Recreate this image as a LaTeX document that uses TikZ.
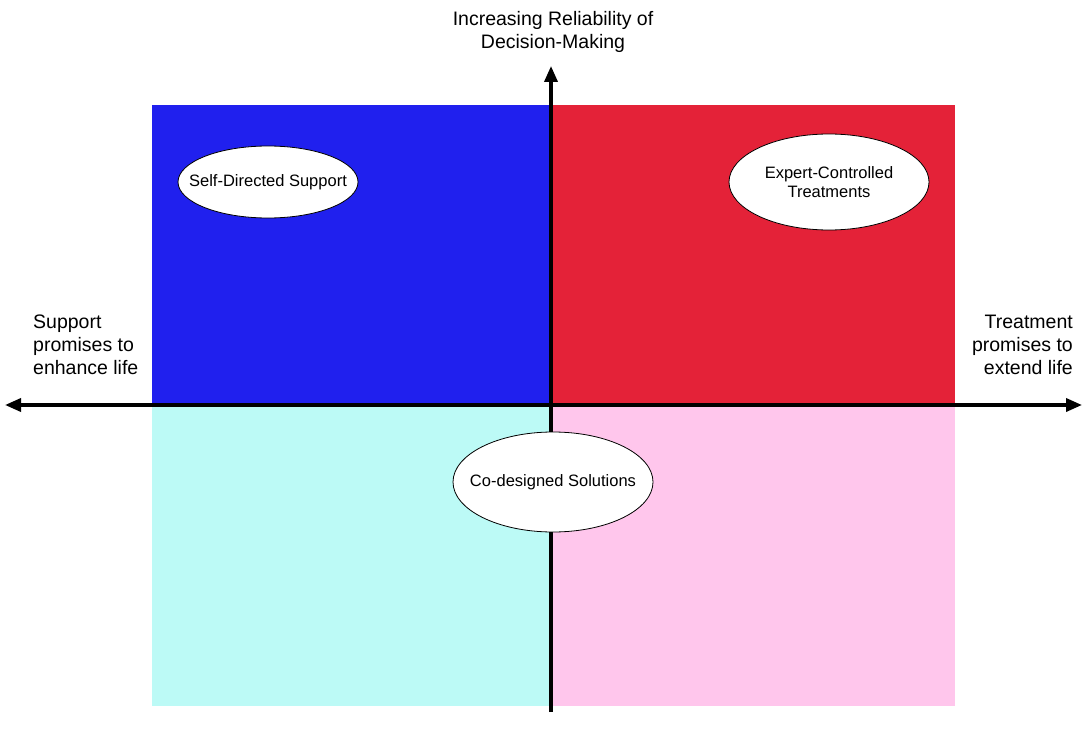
\documentclass[tikz,border=0pt]{standalone}
\usepackage{fontspec}
\setmainfont{Liberation Sans}
\usetikzlibrary{shapes.geometric,arrows.meta}
\definecolor{qblue}{RGB}{32,32,238}
\definecolor{qred}{RGB}{228,34,56}
\definecolor{qcyan}{RGB}{188,250,246}
\definecolor{qpink}{RGB}{255,198,236}
\tikzset{
  axis/.style={line width=3.5pt,-{Triangle[length=16pt,width=13pt]}},
  bubble/.style={ellipse,draw=black,line width=0.8pt,fill=white,inner sep=0pt},
  bubbletext/.style={font=\fontsize{16.5}{19}\selectfont,align=center,inner sep=0pt},
  axlabel/.style={font=\fontsize{19.5}{23}\selectfont,inner sep=0pt}
}
\begin{document}
\begin{tikzpicture}[x=1pt,y=-1pt]
\useasboundingbox[fill=white] (0,0) rectangle (1083,751);
% quadrants
\fill[qblue] (152,105) rectangle (553,405);
\fill[qred] (553,105) rectangle (955,405);
\fill[qcyan] (152,405) rectangle (553,706);
\fill[qpink] (553,405) rectangle (955,706);
% axes
\coordinate (o) at (551,405);
\coordinate (top) at (551,66);
\coordinate (bot) at (551,712);
\coordinate (lt) at (5,405);
\coordinate (rt) at (1082,405);
\draw[axis] (o) -- (lt);
\draw[axis] (o) -- (rt);
\draw[axis] (bot) -- (top);
% labels
\node[axlabel,align=center] (ylab) at (553,32) {Increasing Reliability of\\Decision-Making};
\node[axlabel,align=left,anchor=west] (llab) at (33,345) {Support\\promises to\\enhance life};
\node[axlabel,align=right,anchor=east] (rlab) at (1073,345) {Treatment\\promises to\\extend life};
% bubbles
\node[bubble,minimum width=180pt,minimum height=72pt] (sds) at (268,182) {};
\node[bubbletext] (sdst) at (sds.center) {Self-Directed Support};
\node[bubble,minimum width=200pt,minimum height=96pt] (ect) at (829,182) {};
\node[bubbletext] (ectt) at (ect.center) {Expert-Controlled\\Treatments};
\node[bubble,minimum width=200pt,minimum height=100pt] (cds) at (553,482) {};
\node[bubbletext] (cdst) at (cds.center) {Co-designed Solutions};
\end{tikzpicture}
\end{document}
